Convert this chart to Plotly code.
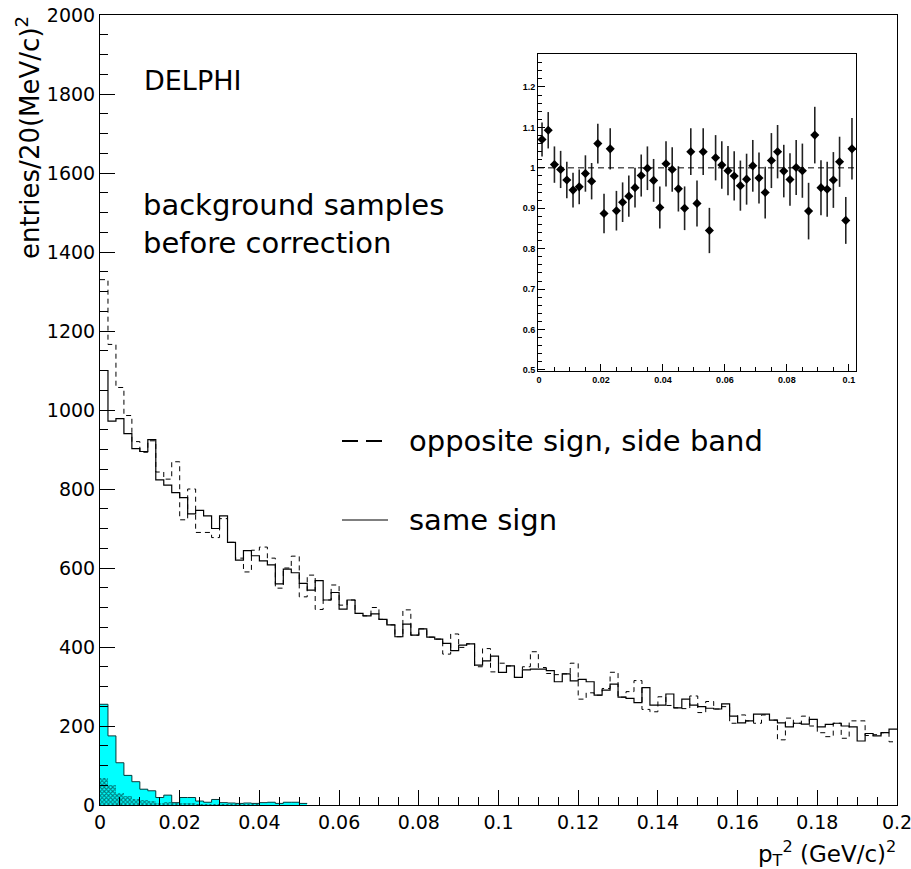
import numpy as np
import plotly.graph_objects as go

# ---------------- data ----------------
bin_edges = np.round(np.linspace(0.0, 0.2, 101), 4)          # 100 bins of 0.002 (GeV/c)^2

same_sign = [1100, 972, 978, 940, 902, 895, 925, 823, 810, 791,
             778, 737, 746, 732, 700, 732, 665, 620, 644, 631,
             618, 608, 560, 597, 588, 561, 544, 568, 519, 538,
             496, 519, 485, 479, 484, 470, 456, 426, 458, 430,
             446, 425, 420, 409, 391, 405, 408, 354, 365, 377,
             336, 352, 323, 342, 344, 344, 340, 312, 332, 314,
             318, 312, 278, 291, 306, 273, 270, 259, 297, 253,
             253, 281, 246, 268, 253, 249, 245, 243, 256, 225,
             208, 213, 230, 230, 215, 208, 198, 207, 205, 217,
             198, 204, 207, 200, 198, 162, 181, 175, 183, 192]

opposite_sign = [1330, 1166, 1057, 986, 920, 893, 922, 843, 825, 869,
                 722, 800, 690, 690, 677, 725, 665, 625, 590, 645,
                 653, 625, 549, 600, 630, 527, 582, 495, 519, 557,
                 506, 519, 485, 479, 500, 470, 456, 426, 494, 430,
                 446, 425, 420, 382, 433, 399, 408, 350, 396, 337,
                 359, 352, 323, 350, 388, 348, 333, 330, 332, 359,
                 268, 284, 278, 295, 336, 273, 287, 315, 242, 236,
                 274, 252, 246, 244, 276, 234, 262, 243, 249, 207,
                 228, 213, 207, 228, 215, 165, 220, 207, 225, 200,
                 183, 173, 207, 169, 213, 213, 176, 178, 183, 160]

signal_region = [255, 175, 107, 75, 59, 40, 36, 19, 25, 6,
                 19, 19, 10, 7, 14, 6, 5, 4, 5, 4,
                 6, 7, 4, 7, 7, 4]

hatched_part = [68, 50, 30, 22, 15, 12, 10, 6, 7, 4,
                5, 4, 3, 3, 3, 2, 2, 2, 2, 2]

ratio_x = np.round(np.linspace(0.001, 0.101, 51), 4)
ratio = [1.070, 1.093, 1.008, 0.996, 0.970, 0.945, 0.953, 0.986, 0.967, 1.060,
         0.887, 1.047, 0.894, 0.915, 0.930, 0.951, 0.981, 0.999, 0.969, 0.902,
         1.010, 0.996, 0.948, 0.900, 1.040, 0.912, 1.040, 0.845, 1.025, 1.007,
         0.993, 0.980, 0.956, 0.972, 1.005, 0.975, 0.939, 1.018, 1.040, 0.992,
         0.971, 1.001, 0.993, 0.893, 1.081, 0.951, 0.947, 0.970, 1.015, 0.870,
         1.047]
ratio_err = [0.042, 0.045, 0.045, 0.046, 0.045, 0.043, 0.043, 0.045, 0.045, 0.049,
             0.049, 0.051, 0.049, 0.049, 0.051, 0.049, 0.052, 0.054, 0.053, 0.052,
             0.056, 0.055, 0.056, 0.054, 0.058, 0.057, 0.058, 0.056, 0.056, 0.059,
             0.061, 0.061, 0.062, 0.063, 0.064, 0.063, 0.064, 0.068, 0.066, 0.065,
             0.065, 0.068, 0.067, 0.070, 0.070, 0.068, 0.068, 0.069, 0.062, 0.058,
             0.076]

# ---------------- figure ----------------
W, H = 911, 869
ML, MR, MT, MB = 100, 14, 15, 64
PW, PH = W - ML - MR, H - MT - MB


def px2x(px):
    return (px - ML) / PW


def px2y(py):
    return (H - MB - py) / PH


FONT = "DejaVu Sans"
CYAN = "#00FFFF"

fig = go.Figure()

n_sig = len(signal_region)
sig_centers = (bin_edges[:n_sig] + bin_edges[1:n_sig + 1]) / 2
fig.add_trace(go.Bar(x=sig_centers, y=signal_region, width=0.002,
                     marker=dict(color=CYAN, line=dict(width=0)),
                     showlegend=False, hoverinfo="skip"))
n_h = len(hatched_part)
h_centers = (bin_edges[:n_h] + bin_edges[1:n_h + 1]) / 2
fig.add_trace(go.Bar(x=h_centers, y=hatched_part, width=0.002,
                     marker=dict(color=CYAN, line=dict(width=0),
                                 pattern=dict(shape="x", fgcolor="black",
                                              bgcolor=CYAN, size=3, solidity=0.6)),
                     showlegend=False, hoverinfo="skip"))
fig.add_trace(go.Scatter(x=bin_edges[:n_sig + 1], y=signal_region + [signal_region[-1]],
                         mode="lines", line=dict(shape="hv", color="#0a3a3a", width=1),
                         showlegend=False, hoverinfo="skip"))

fig.add_trace(go.Scatter(x=bin_edges, y=opposite_sign + [opposite_sign[-1]],
                         mode="lines", line=dict(shape="hv", color="black", width=1,
                                                 dash="5px,4px"),
                         showlegend=False))
fig.add_trace(go.Scatter(x=bin_edges, y=same_sign + [same_sign[-1]],
                         mode="lines", line=dict(shape="hv", color="black", width=1.2),
                         showlegend=False))

# inset
fig.add_trace(go.Scatter(x=ratio_x, y=ratio, mode="markers",
                         marker=dict(symbol="diamond", size=7, color="black"),
                         error_y=dict(type="data", array=ratio_err, thickness=1.6,
                                      width=0, color="#222222"),
                         xaxis="x2", yaxis="y2", showlegend=False))

axis_common = dict(showline=True, linecolor="black", linewidth=1, mirror=True,
                   ticks="inside", tickcolor="black", showgrid=False, zeroline=False,
                   automargin=False, ticklabeloverflow="allow")

fig.update_layout(
    width=W, height=H,
    margin=dict(l=ML, r=MR, t=MT, b=MB, autoexpand=False),
    paper_bgcolor="white", plot_bgcolor="white",
    barmode="overlay", bargap=0,
    xaxis=dict(range=[0, 0.200001], tick0=0, dtick=0.02, ticklen=15, tickwidth=1,
               minor=dict(dtick=0.005, tick0=0, ticklen=8, ticks="inside", tickcolor="black"),
               tickfont=dict(family=FONT, size=19, color="black"), **axis_common),
    yaxis=dict(range=[0, 2000.01], tick0=0, dtick=200, ticklen=15, tickwidth=1,
               minor=dict(dtick=50, tick0=0, ticklen=8, ticks="inside", tickcolor="black"),
               tickfont=dict(family=FONT, size=19, color="black"), **axis_common),
    xaxis2=dict(domain=[px2x(538), px2x(856)], anchor="y2",
                range=[-0.0003, 0.1023], tick0=0, dtick=0.02, ticklen=7,
                minor=dict(dtick=0.005, tick0=0, ticklen=4, ticks="inside", tickcolor="black"),
                tickfont=dict(family="Liberation Sans", size=9, color="black", weight="bold"),
                **axis_common),
    yaxis2=dict(domain=[px2y(371), px2y(54)], anchor="x2",
                range=[0.4975, 1.2816], tick0=0.5, dtick=0.1, ticklen=7,
                minor=dict(dtick=0.02, tick0=0.5, ticklen=4, ticks="inside", tickcolor="black"),
                tickfont=dict(family="Liberation Sans", size=9, color="black", weight="bold"),
                **axis_common),
)

# reference line at 1 in inset
fig.add_shape(type="line", xref="x2 domain", yref="y2", x0=0, x1=1, y0=1, y1=1,
              line=dict(color="black", width=1, dash="6px,4px"))

# legend samples
fig.add_shape(type="line", xref="paper", yref="paper",
              x0=px2x(342), x1=px2x(390), y0=px2y(441), y1=px2y(441),
              line=dict(color="black", width=2, dash="16px,8px"))
fig.add_shape(type="line", xref="paper", yref="paper",
              x0=px2x(342), x1=px2x(388), y0=px2y(520), y1=px2y(520),
              line=dict(color="black", width=1))


def txt(s, px, py, size, xanchor="left", yanchor="middle", angle=0):
    fig.add_annotation(text=s, x=px2x(px), y=px2y(py), xref="paper", yref="paper",
                       showarrow=False, xanchor=xanchor, yanchor=yanchor,
                       textangle=angle, font=dict(family=FONT, size=size, color="black"))


txt("DELPHI", 142, 80, 27)
txt("background samples", 141, 205, 29)
txt("before correction", 141, 243, 29)
txt("opposite sign, side band", 407, 441, 29)
txt("same sign", 407, 520, 29)
txt("entries/20(MeV/c)<sup>2</sup>", 28, 138, 26, xanchor="center", angle=-90)
txt("p<sub>T</sub><sup>2</sup> (GeV/c)<sup>2</sup>", 898, 853, 23, xanchor="right")

fig.write_html("out.html",
               config={"displayModeBar": False, "staticPlot": True},
               post_script="document.body.style.margin='0';document.body.style.overflow='hidden';")
